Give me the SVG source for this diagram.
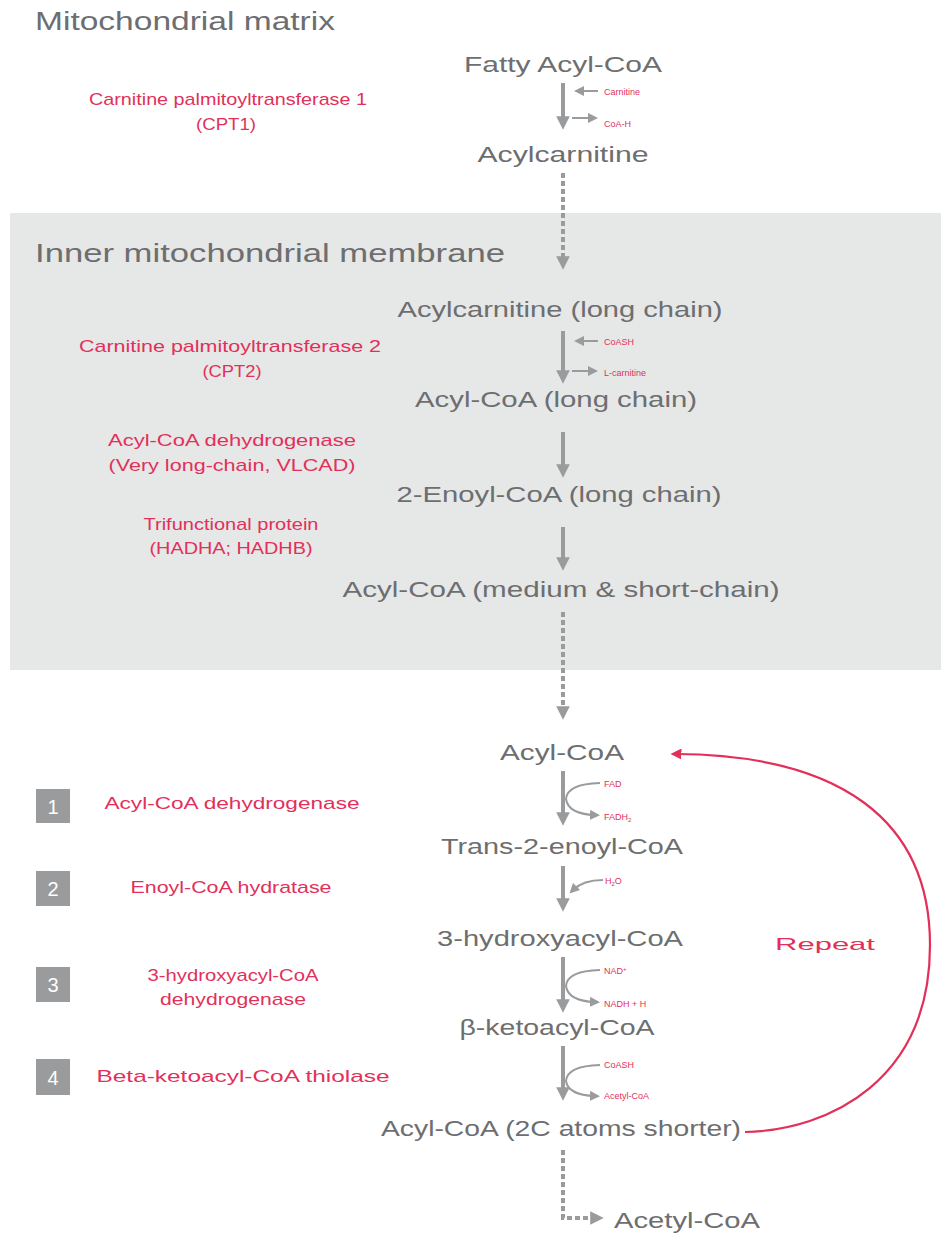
<svg xmlns="http://www.w3.org/2000/svg" width="941" height="1234" viewBox="0 0 941 1234">
<style>
.t{font-family:"Liberation Sans",Arial,sans-serif;fill:#6d6e70;font-size:22px}
.h{font-family:"Liberation Sans",Arial,sans-serif;fill:#6d6e70;font-size:26px}
.r{font-family:"Liberation Sans",Arial,sans-serif;fill:#e2305a;font-size:17px}
.s{font-family:"Liberation Sans",Arial,sans-serif;fill:#e2305a;font-size:9px}
.n{font-family:"Liberation Sans",Arial,sans-serif;fill:#ffffff;font-size:20px}
.m{text-anchor:middle}
.shaft{stroke:#9a9b9d;stroke-width:4;fill:none}
.dot{stroke:#9a9b9d;stroke-width:4;fill:none;stroke-dasharray:5 3}
.thin{stroke:#9a9b9d;stroke-width:2;fill:none}
.box{fill:#9a9b9d}
</style>
<defs>
<marker id="ah" viewBox="0 0 10 10" refX="5" refY="5" markerWidth="3.4" markerHeight="3.4" orient="auto"><path d="M0,0L10,5L0,10z" fill="#9a9b9d"/></marker>
<marker id="as" viewBox="0 0 10 10" refX="5" refY="5" markerWidth="5" markerHeight="5" orient="auto"><path d="M0,0L10,5L0,10z" fill="#9a9b9d"/></marker>
<marker id="ar" viewBox="0 0 10 10" refX="5" refY="5" markerWidth="5" markerHeight="5" orient="auto"><path d="M0,0L10,5L0,10z" fill="#e2305a"/></marker>
</defs>
<rect x="10" y="213" width="931" height="457" fill="#e6e7e7"/>
<text class="h" x="35" y="30" textLength="300" lengthAdjust="spacingAndGlyphs">Mitochondrial matrix</text>
<text class="h" x="35" y="262" textLength="470" lengthAdjust="spacingAndGlyphs">Inner mitochondrial membrane</text>

<g id="connectors">
<path class="shaft" d="M563,83V123" marker-end="url(#ah)"/>
<path class="thin" d="M598,91H579" marker-end="url(#as)"/>
<path class="thin" d="M572,118H593" marker-end="url(#as)"/>
<path class="dot" d="M563,173V263" marker-end="url(#ah)"/>
<path class="shaft" d="M563,331V377" marker-end="url(#ah)"/>
<path class="thin" d="M598,341H579" marker-end="url(#as)"/>
<path class="thin" d="M572,371H593" marker-end="url(#as)"/>
<path class="shaft" d="M563,432V471" marker-end="url(#ah)"/>
<path class="shaft" d="M563,527V564" marker-end="url(#ah)"/>
<path class="dot" d="M563,612V713" marker-end="url(#ah)"/>
<path class="shaft" d="M563,771V819" marker-end="url(#ah)"/>
<path class="thin" d="M600,783Q567,784 566,799Q568,814 595,815" marker-end="url(#as)"/>
<path class="shaft" d="M563,866V905" marker-end="url(#ah)"/>
<path class="thin" d="M603,880Q583,880 573,890" marker-end="url(#as)"/>
<path class="shaft" d="M563,957V1006" marker-end="url(#ah)"/>
<path class="thin" d="M600,970Q567,971 566,986Q568,1001 595,1002" marker-end="url(#as)"/>
<path class="shaft" d="M563,1046V1094" marker-end="url(#ah)"/>
<path class="thin" d="M600,1065Q567,1066 566,1081Q568,1095 595,1096" marker-end="url(#as)"/>
<path class="dot" d="M563,1150V1218H597" marker-end="url(#ah)"/>
<path d="M745,1132C830,1130 930,1080 930,945C930,820 840,755 676,754" stroke="#e2305a" stroke-width="2.2" fill="none" marker-end="url(#ar)"/>
</g>

<g id="n-fatty"><text class="t m" x="563" y="72" textLength="198" lengthAdjust="spacingAndGlyphs">Fatty Acyl-CoA</text></g>
<g id="n-cpt1"><text class="r m" x="228" y="105" textLength="278" lengthAdjust="spacingAndGlyphs">Carnitine palmitoyltransferase 1</text><text class="r m" x="226" y="130" textLength="60" lengthAdjust="spacingAndGlyphs">(CPT1)</text></g>
<g id="l-carn"><text class="s" x="604" y="95">Carnitine</text><text class="s" x="604" y="127">CoA-H</text></g>
<g id="n-acylcarn"><text class="t m" x="563" y="162" textLength="171" lengthAdjust="spacingAndGlyphs">Acylcarnitine</text></g>
<g id="n-acylcarn-lc"><text class="t m" x="560" y="317" textLength="325" lengthAdjust="spacingAndGlyphs">Acylcarnitine (long chain)</text></g>
<g id="n-cpt2"><text class="r m" x="230" y="352" textLength="302" lengthAdjust="spacingAndGlyphs">Carnitine palmitoyltransferase 2</text><text class="r m" x="232" y="377" textLength="59" lengthAdjust="spacingAndGlyphs">(CPT2)</text></g>
<g id="l-coash"><text class="s" x="604" y="345">CoASH</text><text class="s" x="604" y="376">L-carnitine</text></g>
<g id="n-acylcoa-lc"><text class="t m" x="556" y="407" textLength="282" lengthAdjust="spacingAndGlyphs">Acyl-CoA (long chain)</text></g>
<g id="n-vlcad"><text class="r m" x="232" y="446" textLength="248" lengthAdjust="spacingAndGlyphs">Acyl-CoA dehydrogenase</text><text class="r m" x="232" y="471" textLength="247" lengthAdjust="spacingAndGlyphs">(Very long-chain, VLCAD)</text></g>
<g id="n-enoyl-lc"><text class="t m" x="559" y="502" textLength="325" lengthAdjust="spacingAndGlyphs">2-Enoyl-CoA (long chain)</text></g>
<g id="n-tfp"><text class="r m" x="231" y="530" textLength="175" lengthAdjust="spacingAndGlyphs">Trifunctional protein</text><text class="r m" x="231" y="554" textLength="163" lengthAdjust="spacingAndGlyphs">(HADHA; HADHB)</text></g>
<g id="n-acylcoa-ms"><text class="t m" x="561" y="597" textLength="437" lengthAdjust="spacingAndGlyphs">Acyl-CoA (medium &amp; short-chain)</text></g>

<g id="n-acylcoa"><text class="t m" x="562" y="760" textLength="124" lengthAdjust="spacingAndGlyphs">Acyl-CoA</text></g>
<g id="l-fad"><text class="s" x="604" y="787">FAD</text><text class="s" x="604" y="820">FADH<tspan font-size="6" dy="2">2</tspan></text></g>
<g id="step1"><rect class="box" x="36" y="789" width="34" height="34"/><text class="n m" x="53" y="814">1</text><text class="r m" x="232" y="809" textLength="255" lengthAdjust="spacingAndGlyphs">Acyl-CoA dehydrogenase</text></g>
<g id="n-trans"><text class="t m" x="562" y="854" textLength="242" lengthAdjust="spacingAndGlyphs">Trans-2-enoyl-CoA</text></g>
<g id="l-h2o"><text class="s" x="605" y="884">H<tspan font-size="6" dy="2">2</tspan><tspan dy="-2">O</tspan></text></g>
<g id="step2"><rect class="box" x="36" y="871" width="34" height="35"/><text class="n m" x="53" y="896">2</text><text class="r m" x="231" y="893" textLength="201" lengthAdjust="spacingAndGlyphs">Enoyl-CoA hydratase</text></g>
<g id="n-hydroxy"><text class="t m" x="560" y="946" textLength="246" lengthAdjust="spacingAndGlyphs">3-hydroxyacyl-CoA</text></g>
<g id="l-nad"><text class="s" x="604" y="974">NAD<tspan font-size="6" dy="-3">+</tspan></text><text class="s" x="604" y="1007">NADH + H</text></g>
<g id="step3"><rect class="box" x="36" y="967" width="34" height="35"/><text class="n m" x="53" y="992">3</text><text class="r m" x="233" y="981" textLength="171" lengthAdjust="spacingAndGlyphs">3-hydroxyacyl-CoA</text><text class="r m" x="233" y="1005" textLength="146" lengthAdjust="spacingAndGlyphs">dehydrogenase</text></g>
<g id="n-keto"><text class="t m" x="557" y="1035" textLength="195" lengthAdjust="spacingAndGlyphs">β-ketoacyl-CoA</text></g>
<g id="l-coash2"><text class="s" x="604" y="1068">CoASH</text><text class="s" x="604" y="1099">Acetyl-CoA</text></g>
<g id="step4"><rect class="box" x="36" y="1059" width="34" height="36"/><text class="n m" x="53" y="1085">4</text><text class="r m" x="243" y="1082" textLength="293" lengthAdjust="spacingAndGlyphs">Beta-ketoacyl-CoA thiolase</text></g>
<g id="n-shorter"><text class="t m" x="561" y="1136" textLength="360" lengthAdjust="spacingAndGlyphs">Acyl-CoA (2C atoms shorter)</text></g>
<g id="n-repeat"><text class="r" x="775" y="950" font-size="23" textLength="100" lengthAdjust="spacingAndGlyphs">Repeat</text></g>
<g id="n-acetyl"><text class="t" x="614" y="1228" textLength="146" lengthAdjust="spacingAndGlyphs">Acetyl-CoA</text></g>
</svg>
